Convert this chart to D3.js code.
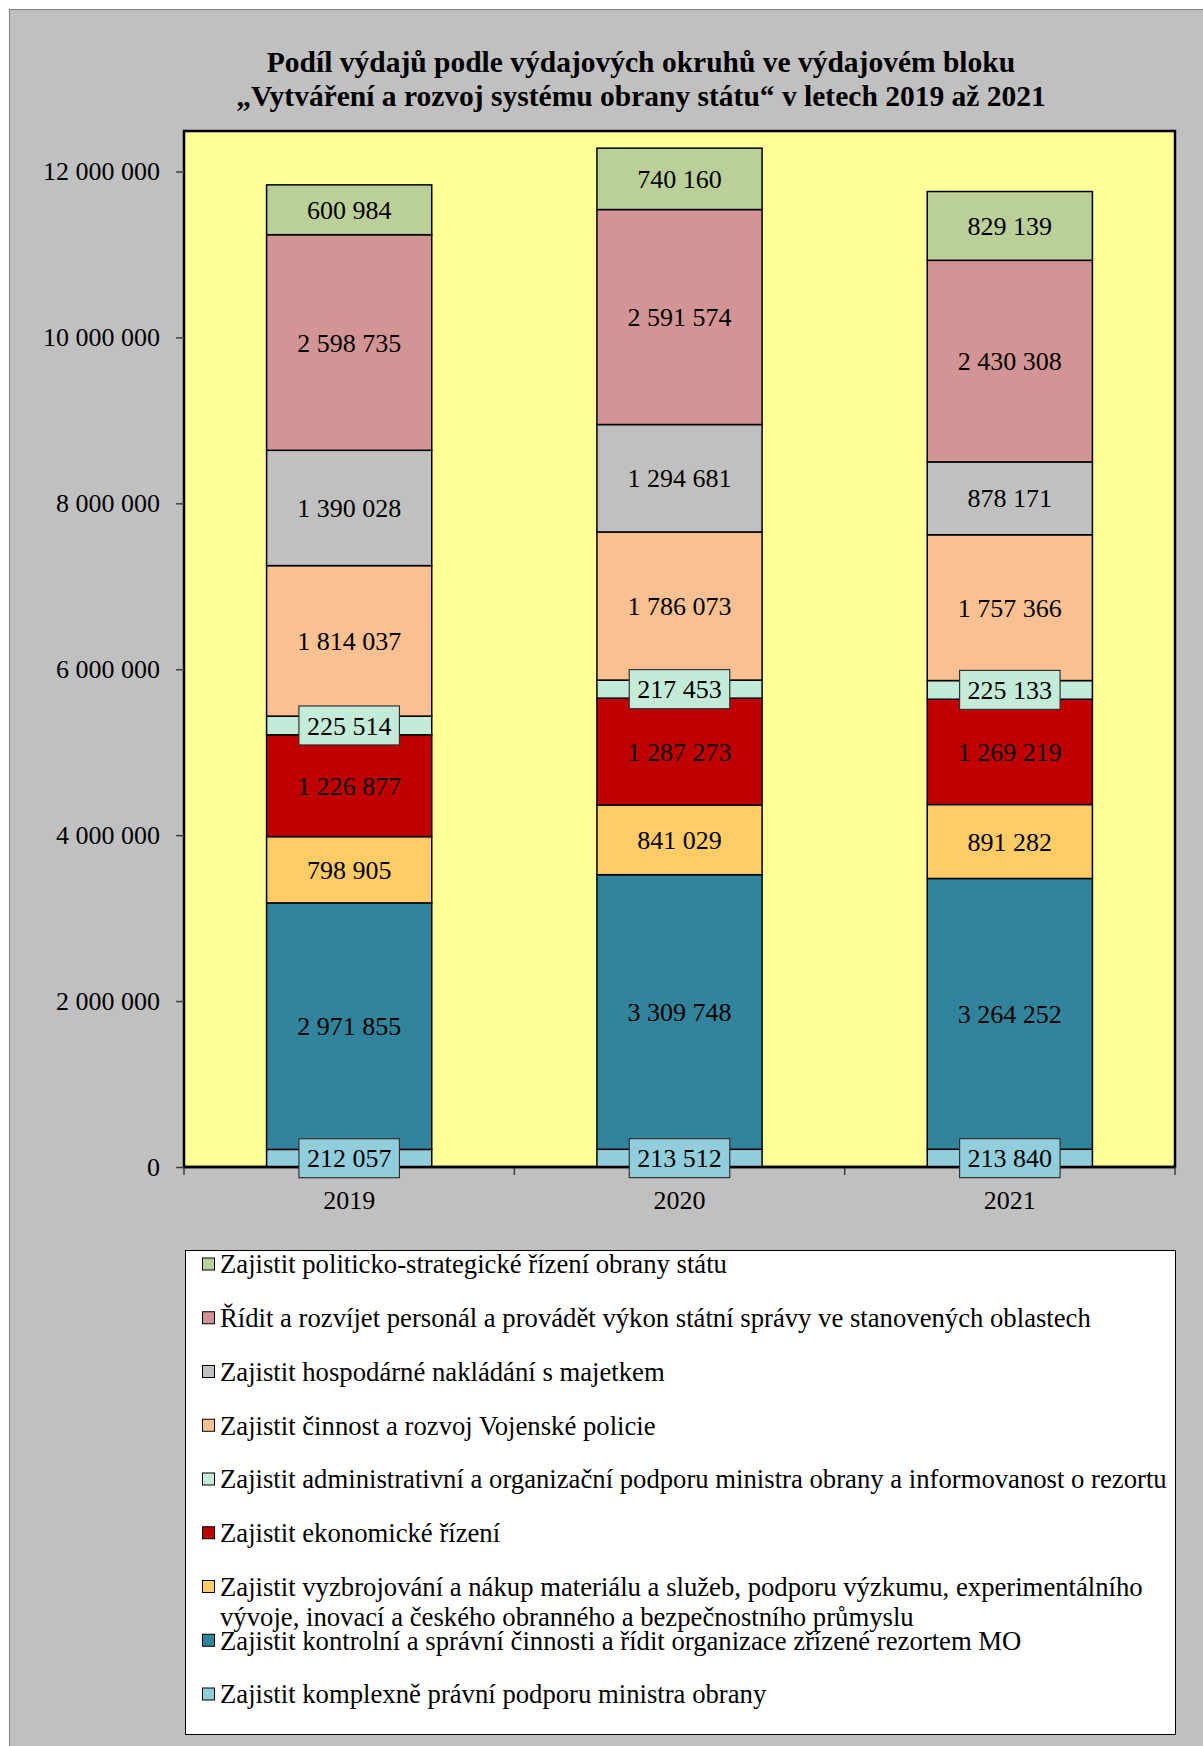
<!DOCTYPE html>
<html>
<head>
<meta charset="utf-8">
<script src="https://cdn.jsdelivr.net/npm/d3@7"></script>
<style>
  body { margin: 0; background: #fff; }
  svg { display: block; font-family: "Liberation Serif", "Times New Roman", serif; }
</style>
</head>
<body>
<svg id="canvas" width="1203" height="1746"></svg>
<script>
// data, bottom segment first
let years = ['2019', '2020', '2021']

let seriesNames = [
    'Zajistit komplexně právní podporu ministra obrany',
    'Zajistit kontrolní a správní činnosti a řídit organizace zřízené rezortem MO',
    'Zajistit vyzbrojování a nákup materiálu a služeb, podporu výzkumu, experimentálního|vývoje, inovací a českého obranného a bezpečnostního průmyslu',
    'Zajistit ekonomické řízení',
    'Zajistit administrativní a organizační podporu ministra obrany a informovanost o rezortu',
    'Zajistit činnost a rozvoj Vojenské policie',
    'Zajistit hospodárné nakládání s majetkem',
    'Řídit a rozvíjet personál a provádět výkon státní správy ve stanovených oblastech',
    'Zajistit politicko-strategické řízení obrany státu'
]

let pravniPodpora = [212057, 213512, 213840]
let kontrolniCinnost = [2971855, 3309748, 3264252]
let vyzbrojovani = [798905, 841029, 891282]
let ekonomickeRizeni = [1226877, 1287273, 1269219]
let administrativniPodpora = [225514, 217453, 225133]
let vojenskaPolicie = [1814037, 1786073, 1757366]
let majetek = [1390028, 1294681, 878171]
let personal = [2598735, 2591574, 2430308]
let politickeRizeni = [600984, 740160, 829139]

let seriesValues = [pravniPodpora, kontrolniCinnost, vyzbrojovani, ekonomickeRizeni,
    administrativniPodpora, vojenskaPolicie, majetek, personal, politickeRizeni]

let colors = ['#92CDDC', '#31849B', '#FFCC66', '#C00000', '#C4EBD8', '#F9C091', '#C0C0C0', '#D29494', '#BBCF99']

let yTicks = [0, 2000000, 4000000, 6000000, 8000000, 10000000, 12000000]

let canvas = d3.select('#canvas')
let fmt = (v) => d3.format(',')(v).replace(/,/g, ' ')

// chart frame
canvas.append('rect')
    .attr('x', 9.5).attr('y', 9.5)
    .attr('width', 1210).attr('height', 1760)
    .attr('fill', '#C0C0C0')
    .attr('stroke', '#808080')

canvas.append('text')
    .attr('x', 641).attr('y', 72)
    .attr('text-anchor', 'middle')
    .attr('font-size', 29.5).attr('font-weight', 'bold')
    .text('Podíl výdajů podle výdajových okruhů ve výdajovém bloku')
canvas.append('text')
    .attr('x', 641).attr('y', 106)
    .attr('text-anchor', 'middle')
    .attr('font-size', 29.5).attr('font-weight', 'bold')
    .text('„Vytváření a rozvoj systému obrany státu“ v letech 2019 až 2021')

let plotLeft = 184, plotRight = 1175, plotTop = 131

let xScale = d3.scaleBand().domain(years).range([plotLeft, plotRight])
    .paddingInner(0.5).paddingOuter(0.25)
let yScale = d3.scaleLinear().domain([0, 12000000]).range([1167, 171.5])

canvas.append('rect')
    .attr('x', plotLeft).attr('y', plotTop)
    .attr('width', plotRight - plotLeft).attr('height', yScale(0) - plotTop)
    .attr('fill', '#FFFF99')
    .attr('stroke', '#000').attr('stroke-width', 2.5)

// y axis ticks + labels
let yAxis = d3.axisLeft(yScale).tickValues(yTicks).tickSize(8).tickPadding(16).tickFormat(fmt)
let yG = canvas.append('g').attr('transform', 'translate(' + plotLeft + ',0)').call(yAxis)
yG.select('.domain').remove()
yG.selectAll('line').attr('stroke', '#404040').attr('stroke-width', 1.5)
yG.selectAll('text').attr('font-size', 26).attr('font-family', 'Liberation Serif').attr('fill', '#000')

// x axis ticks between categories
let xTickPos = [plotLeft].concat(years.map((y, i) => plotLeft + xScale.step() * (i + 1)))
canvas.selectAll('.xtick')
    .data(xTickPos)
    .enter()
    .append('line')
    .attr('x1', (d) => d).attr('x2', (d) => d)
    .attr('y1', yScale(0)).attr('y2', yScale(0) + 8)
    .attr('stroke', '#404040').attr('stroke-width', 1.5)

canvas.selectAll('.xlabel')
    .data(years)
    .enter()
    .append('text')
    .attr('x', (y) => xScale(y) + xScale.bandwidth() / 2)
    .attr('y', 1200).attr('dy', '0.35em')
    .attr('text-anchor', 'middle')
    .attr('font-size', 26)
    .text((y) => y)

// stacked bars
let tableRows = years.map((y, i) => {
    let row = { year: y }
    seriesValues.forEach((s, k) => { row['s' + k] = s[i] })
    return row
})
let stack = d3.stack().keys(seriesValues.map((s, k) => 's' + k))
let stacked = stack(tableRows)

let layers = canvas.selectAll('.layer')
    .data(stacked)
    .enter()
    .append('g')
    .attr('fill', (layer, k) => colors[k])

layers.selectAll('rect')
    .data((layer) => layer)
    .enter()
    .append('rect')
    .attr('x', (d) => xScale(d.data.year))
    .attr('y', (d) => yScale(d[1]))
    .attr('width', xScale.bandwidth())
    .attr('height', (d) => yScale(d[0]) - yScale(d[1]))
    .attr('stroke', '#000').attr('stroke-width', 1.5)

// x axis line on top of the bars
canvas.append('line')
    .attr('x1', plotLeft).attr('x2', plotRight)
    .attr('y1', yScale(0)).attr('y2', yScale(0))
    .attr('stroke', '#000').attr('stroke-width', 2.5)

// data labels
stacked.forEach((layer, k) => {
    layer.forEach((d) => {
        let cx = xScale(d.data.year) + xScale.bandwidth() / 2
        let cy = (yScale(d[0]) + yScale(d[1])) / 2
        let segH = yScale(d[0]) - yScale(d[1])
        let g = canvas.append('g')
        let t = g.append('text')
            .attr('x', cx).attr('y', cy).attr('dy', '0.35em')
            .attr('text-anchor', 'middle')
            .attr('font-size', 26)
            .text(fmt(d[1] - d[0]))
        if (segH < 32) {
            let w = t.node().getComputedTextLength() + 16
            g.insert('rect', 'text')
                .attr('x', cx - w / 2).attr('y', cy - 19.5)
                .attr('width', w).attr('height', 39)
                .attr('fill', colors[k])
                .attr('stroke', '#333').attr('stroke-width', 1.2)
        }
    })
})

// legend
canvas.append('rect')
    .attr('x', 185.5).attr('y', 1250.5)
    .attr('width', 990).attr('height', 484)
    .attr('fill', '#fff')
    .attr('stroke', '#000').attr('stroke-width', 1)

let legendOrder = d3.range(seriesNames.length).reverse()
let legendY = d3.scalePoint().domain(legendOrder).range([1264, 1694])

let legendItems = canvas.selectAll('.legend')
    .data(legendOrder)
    .enter()
    .append('g')
    .attr('transform', (k) => 'translate(0,' + legendY(k) + ')')

legendItems.append('rect')
    .attr('x', 202.5).attr('y', -6)
    .attr('width', 12).attr('height', 12)
    .attr('fill', (k) => colors[k])
    .attr('stroke', '#000').attr('stroke-width', 1)

legendItems.each(function (k) {
    let lines = seriesNames[k].split('|')
    lines.forEach((line, j) => {
        d3.select(this).append('text')
            .attr('x', 220).attr('y', j * 30).attr('dy', '0.35em')
            .attr('font-size', 26.7)
            .text(line)
    })
})
</script>
</body>
</html>
